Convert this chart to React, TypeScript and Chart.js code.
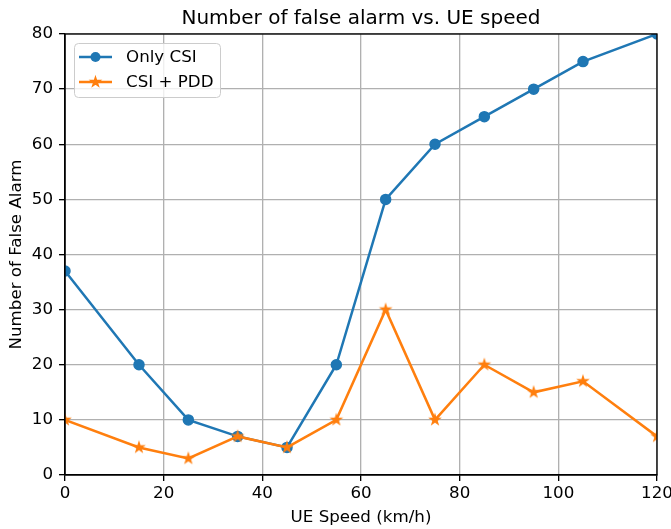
import React, { useEffect, useRef } from "react";
import { Chart, registerables } from "chart.js";

Chart.register(...registerables);

// UE speed (km/h) at each measurement
const speeds = [0, 15, 25, 35, 45, 55, 65, 75, 85, 95, 105, 120];
// False-alarm counts per detection scheme
const onlyCsi = [37, 20, 10, 7, 5, 20, 50, 60, 65, 70, 75, 80];
const csiPdd = [10, 5, 3, 7, 5, 10, 30, 10, 20, 15, 17, 7];

const xTicks = [0, 20, 40, 60, 80, 100, 120];
const yTicks = [0, 10, 20, 30, 40, 50, 60, 70, 80];

const BLUE = "#1f77b4";
const ORANGE = "#ff7f0e";
const FONT = "'DejaVu Sans', sans-serif";

function starPath(ctx: CanvasRenderingContext2D, cx: number, cy: number, r: number) {
  const inner = r * 0.381966;
  ctx.beginPath();
  for (let i = 0; i < 10; i++) {
    const rad = i % 2 === 0 ? r : inner;
    const a = -Math.PI / 2 + (i * Math.PI) / 5;
    const px = cx + rad * Math.cos(a);
    const py = cy + rad * Math.sin(a);
    if (i === 0) ctx.moveTo(px, py);
    else ctx.lineTo(px, py);
  }
  ctx.closePath();
}

function drawStar(ctx: CanvasRenderingContext2D, cx: number, cy: number) {
  ctx.save();
  starPath(ctx, cx, cy, 4.9);
  ctx.fillStyle = ORANGE;
  ctx.strokeStyle = ORANGE;
  ctx.lineWidth = 1.4;
  ctx.lineJoin = "miter";
  ctx.fill();
  ctx.stroke();
  ctx.restore();
}

function makeStarImage(): HTMLCanvasElement {
  const c = document.createElement("canvas");
  c.width = 16;
  c.height = 16;
  const ctx = c.getContext("2d")!;
  drawStar(ctx, 8, 8);
  return c;
}

const framePlugin = {
  id: "frameAndLegend",
  afterDatasetsDraw(chart: any) {
    const { ctx, chartArea } = chart;
    const { left, top, right, bottom } = chartArea;
    ctx.save();
    // spines
    ctx.strokeStyle = "#000";
    ctx.lineWidth = 1.33;
    ctx.strokeRect(left, top, right - left, bottom - top);

    // title
    ctx.fillStyle = "#000";
    ctx.font = `20px ${FONT}`;
    ctx.textAlign = "center";
    ctx.textBaseline = "alphabetic";
    ctx.fillText("Number of false alarm vs. UE speed", (left + right) / 2, 24);

    // legend box
    const bx = 74, by = 43, bw = 146, bh = 54;
    ctx.beginPath();
    (ctx as any).roundRect(bx + 0.5, by + 0.5, bw, bh, 4);
    ctx.fillStyle = "rgba(255,255,255,0.8)";
    ctx.fill();
    ctx.strokeStyle = "#cccccc";
    ctx.lineWidth = 1;
    ctx.stroke();

    const rows = [
      { label: "Only CSI", color: BLUE, y: 57, marker: "circle" },
      { label: "CSI + PDD", color: ORANGE, y: 82, marker: "star" },
    ];
    for (const r of rows) {
      ctx.strokeStyle = r.color;
      ctx.lineWidth = 2.5;
      ctx.beginPath();
      ctx.moveTo(79, r.y);
      ctx.lineTo(112, r.y);
      ctx.stroke();
      if (r.marker === "circle") {
        ctx.beginPath();
        ctx.arc(95.5, r.y, 5, 0, Math.PI * 2);
        ctx.fillStyle = r.color;
        ctx.fill();
      } else {
        drawStar(ctx, 95.5, r.y);
      }
      ctx.fillStyle = "#000";
      ctx.font = `16.7px ${FONT}`;
      ctx.textAlign = "left";
      ctx.textBaseline = "middle";
      ctx.fillText(r.label, 126, r.y + 1);
    }
    ctx.restore();
  },
};

export default function App() {
  const canvasRef = useRef<HTMLCanvasElement | null>(null);

  useEffect(() => {
    const canvas = canvasRef.current;
    if (!canvas) return;
    const tickFont = { family: FONT, size: 16.7 };
    const star = makeStarImage();

    const chart = new Chart(canvas, {
      type: "line",
      data: {
        datasets: [
          {
            label: "Only CSI",
            data: speeds.map((x, i) => ({ x, y: onlyCsi[i] })),
            borderColor: BLUE,
            backgroundColor: BLUE,
            borderWidth: 2.5,
            pointRadius: 5,
            pointBorderWidth: 1.5,
            pointStyle: "circle",
            tension: 0,
            clip: 0,
            order: 2,
          },
          {
            label: "CSI + PDD",
            data: speeds.map((x, i) => ({ x, y: csiPdd[i] })),
            borderColor: ORANGE,
            backgroundColor: ORANGE,
            borderWidth: 2.5,
            pointRadius: 8,
            pointStyle: star,
            tension: 0,
            clip: 0,
            order: 1,
          },
        ],
      },
      options: {
        responsive: false,
        animation: false,
        devicePixelRatio: 1,
        layout: { padding: { top: 34, right: 14, left: 0, bottom: 0 } },
        plugins: {
          legend: { display: false },
          title: { display: false },
          tooltip: { enabled: false },
        },
        scales: {
          x: {
            type: "linear",
            min: 0,
            max: 120,
            afterBuildTicks: (s: any) => {
              s.ticks = xTicks.map((v) => ({ value: v }));
            },
            ticks: { font: tickFont, color: "#000", padding: 3, maxRotation: 0 },
            grid: {
              color: "#b0b0b0",
              lineWidth: 1.33,
              tickLength: 6,
              tickColor: "#000",
              tickWidth: 1.33,
            },
            border: { color: "#000", width: 1.33 },
            title: {
              display: true,
              text: "UE Speed (km/h)",
              font: tickFont,
              color: "#000",
              padding: { top: 4, bottom: 1 },
            },
            afterFit: (s: any) => {
              s.height = 54;
              s.paddingLeft = 0;
              s.paddingRight = 0;
            },
          },
          y: {
            type: "linear",
            min: 0,
            max: 80,
            afterBuildTicks: (s: any) => {
              s.ticks = yTicks.map((v) => ({ value: v }));
            },
            ticks: { font: tickFont, color: "#000", padding: 6 },
            grid: {
              color: "#b0b0b0",
              lineWidth: 1.33,
              tickLength: 6,
              tickColor: "#000",
              tickWidth: 1.33,
            },
            border: { color: "#000", width: 1.33 },
            title: {
              display: true,
              text: "Number of False Alarm",
              font: tickFont,
              color: "#000",
              padding: { top: 7, bottom: 4 },
            },
            afterFit: (s: any) => {
              s.width = 65;
              s.paddingTop = 0;
              s.paddingBottom = 0;
            },
          },
        },
      },
      plugins: [framePlugin],
    } as any);

    return () => chart.destroy();
  }, []);

  return (
    <div style={{ position: "absolute", left: 0, top: 0, width: 671, height: 529, background: "#fff" }}>
      <canvas ref={canvasRef} width={671} height={529} style={{ display: "block" }} />
    </div>
  );
}
